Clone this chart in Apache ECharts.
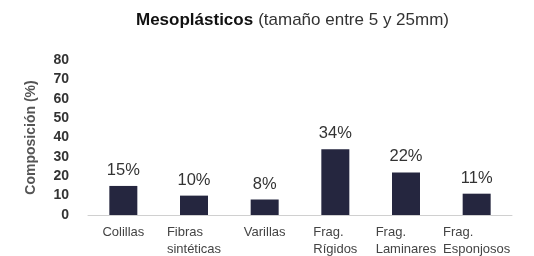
<!DOCTYPE html>
<html>
<head>
<meta charset="utf-8">
<script src="https://cdn.jsdelivr.net/npm/echarts@6/dist/echarts.min.js"></script>
<style>
  html, body { margin: 0; padding: 0; background: #fff; }
  #chart { width: 534px; height: 256px; }
</style>
</head>
<body>
<div id="chart"></div>
<script>
// datos
const categories = ['Colillas', 'Fibras\nsintéticas', 'Varillas', 'Frag.\nRígidos', 'Frag.\nLaminares', 'Frag.\nEsponjosos'];
const composition = [15, 10, 8, 34, 22, 11];
const yTicks = [0, 10, 20, 30, 40, 50, 60, 70, 80];

const font = 'Liberation Sans, Helvetica, Arial, sans-serif';
const chart = echarts.init(document.getElementById('chart'));

const option = {
    animation: false,
    title: {
        text: '{b|Mesoplásticos} {n|(tamaño entre 5 y 25mm)}',
        left: 131,
        top: 6,
        textStyle: {
            fontWeight: 'normal',
            rich: {
                b: { fontFamily: font, fontSize: 17, fontWeight: 'bold', color: '#111' },
                n: { fontFamily: font, fontSize: 17, fontWeight: 'normal', color: '#333' }
            }
        }
    },
    grid: { left: 88, right: 22, top: 60, bottom: 41 },
    xAxis: {
        type: 'category',
        data: categories,
        axisTick: { show: false },
        axisLine: { lineStyle: { color: '#d0d0d0', width: 1 } },
        axisLabel: {
            margin: 9,
            interval: 0,
            color: '#444',
            fontFamily: font,
            fontSize: 13,
            formatter: function (v) {
                return v.split('\n').map(l => '{l|' + l + '}').join('\n');
            },
            rich: {
                l: { align: 'left', fontFamily: font, fontSize: 13, color: '#444', lineHeight: 17 }
            }
        }
    },
    yAxis: {
        type: 'value',
        min: yTicks[0],
        max: yTicks[yTicks.length - 1],
        interval: 10,
        name: 'Composición (%)',
        nameLocation: 'middle',
        nameRotate: 90,
        nameGap: 50,
        nameTextStyle: { fontFamily: font, fontSize: 14, fontWeight: 'bold', color: '#555' },
        axisLine: { show: false },
        axisTick: { show: false },
        splitLine: { show: false },
        axisLabel: {
            margin: 19,
            color: '#333',
            fontFamily: font,
            fontSize: 14,
            fontWeight: 'bold'
        }
    },
    series: [{
        type: 'bar',
        data: composition,
        barWidth: 28,
        itemStyle: { color: '#25263f' },
        label: {
            show: true,
            position: 'top',
            distance: 7,
            formatter: '{c}%',
            fontFamily: font,
            fontSize: 16.5,
            color: '#333'
        }
    }]
};
chart.setOption(option);
</script>
</body>
</html>
